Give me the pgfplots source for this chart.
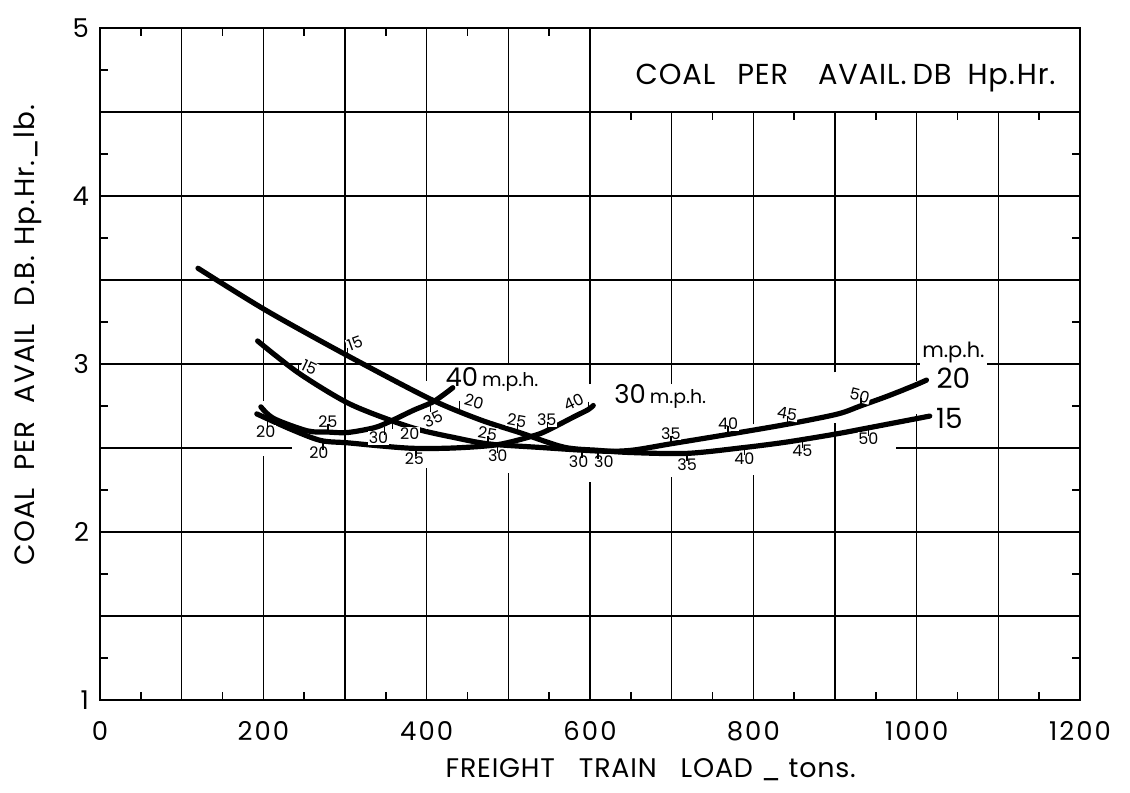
\documentclass[border=0pt]{standalone}
\usepackage{fontspec}
\setmainfont{Poppins}
\newfontfamily\widefont[LetterSpace=8]{Poppins}
\newfontfamily\titlefont[LetterSpace=3]{Poppins}
\usepackage{pgfplots}
\pgfplotsset{compat=1.18}
\newcommand{\mph}[1]{{\fontsize{13}{14}\selectfont #1}\,{\fontsize{9.5}{11}\selectfont m.p.h.}}
\begin{document}
\begin{tikzpicture}[font=\fontsize{12}{14}\selectfont,
  grid line/.style={black, line width=0.75bp},
  lab/.style={font=\fontsize{8}{8}\selectfont, inner sep=0.4bp, fill=white}]
\begin{axis}[
  set layers,
  at={(0,0)}, anchor=south west,
  scale only axis, width=490bp, height=336bp,
  xmin=0, xmax=1200, ymin=1, ymax=5,
  xtick={0,200,400,600,800,1000,1200},
  xticklabels={0,200,400,600,800,1000,1200},
  ytick={1,2,3,4,5},
  yticklabels={1,2,3,4,5},
  minor xtick={50,150,250,350,450,550,650,750,850,950,1050,1150},
  minor ytick={1.25,1.75,2.25,2.75,3.25,3.75,4.25,4.75},
  major tick length=0pt, minor tick length=4bp,
  tick align=inside,
  tick style={black, line width=0.7bp},
  axis line style={line width=1bp},
  ticklabel style={font=\widefont\fontsize{13}{13}\selectfont},
  xticklabel style={yshift=-7bp},
  yticklabel style={xshift=-2bp},
  clip=false,
  curve/.style={black, line width=2.6bp, line cap=round, smooth, no marks},
  tup/.style={only marks, mark=|, mark size=2bp, mark options={line width=0.7bp, yshift=2bp}},
  tdn/.style={only marks, mark=|, mark size=2bp, mark options={line width=0.7bp, yshift=-2bp}},
]
% ---- grid (drawn by hand, with the erased stretches of the original) ----
\draw[grid line] (axis cs:100,1) -- (axis cs:100,5);
\draw[grid line] (axis cs:200,1) -- (axis cs:200,2.45);
\draw[grid line] (axis cs:200,2.78) -- (axis cs:200,5);
\draw[grid line] (axis cs:300,1) -- (axis cs:300,5);
\draw[grid line] (axis cs:400,1) -- (axis cs:400,2.38);
\draw[grid line] (axis cs:400,2.9) -- (axis cs:400,5);
\draw[grid line] (axis cs:500,1) -- (axis cs:500,2.35);
\draw[grid line] (axis cs:500,3.0) -- (axis cs:500,5);
\draw[grid line] (axis cs:600,1) -- (axis cs:600,2.3);
\draw[grid line] (axis cs:600,2.88) -- (axis cs:600,5);
\draw[grid line] (axis cs:700,1) -- (axis cs:700,2.33);
\draw[grid line] (axis cs:700,2.88) -- (axis cs:700,4.5);
\draw[grid line] (axis cs:800,1) -- (axis cs:800,2.34);
\draw[grid line] (axis cs:800,2.64) -- (axis cs:800,4.5);
\draw[grid line] (axis cs:900,1) -- (axis cs:900,2.65);
\draw[grid line] (axis cs:900,2.95) -- (axis cs:900,4.5);
\draw[grid line] (axis cs:1000,1) -- (axis cs:1000,2.70);
\draw[grid line] (axis cs:1000,2.90) -- (axis cs:1000,4.5);
\draw[grid line] (axis cs:1100,1) -- (axis cs:1100,4.5);
\draw[grid line] (axis cs:0,1.5) -- (axis cs:1200,1.5);
\draw[grid line] (axis cs:0,2) -- (axis cs:1200,2);
\draw[grid line] (axis cs:0,2.5) -- (axis cs:235,2.5);
\draw[grid line] (axis cs:975,2.5) -- (axis cs:1200,2.5);
\draw[grid line] (axis cs:0,3) -- (axis cs:1200,3);
\draw[grid line] (axis cs:0,3.5) -- (axis cs:1200,3.5);
\draw[grid line] (axis cs:0,4) -- (axis cs:1200,4);
\draw[grid line] (axis cs:0,4.5) -- (axis cs:1200,4.5);
% ---- title box ----
\fill[white] (axis cs:601,4.51) rectangle (axis cs:1200,5);
\draw[line width=1bp] (axis cs:600,5) -- (axis cs:1200,5) -- (axis cs:1200,4.5);
\draw[grid line] (axis cs:600,4.5) -- (axis cs:600,5);
\draw[line width=0.7bp] (axis cs:650,4.5) -- ++(0bp,-4bp);
\draw[line width=0.7bp] (axis cs:750,4.5) -- ++(0bp,-4bp);
\draw[line width=0.7bp] (axis cs:850,4.5) -- ++(0bp,-4bp);
\draw[line width=0.7bp] (axis cs:950,4.5) -- ++(0bp,-4bp);
\draw[line width=0.7bp] (axis cs:1050,4.5) -- ++(0bp,-4bp);
\draw[line width=0.7bp] (axis cs:1150,4.5) -- ++(0bp,-4bp);
\node[font=\titlefont\fontsize{14.5}{16}\selectfont] at (axis cs:913,4.705)
  {COAL\hspace{11bp}PER\hspace{15bp}AVAIL.\hspace{3bp}DB\hspace{8bp}Hp.\hspace{1bp}Hr.};

% ---- curves ----
% 15 m.p.h.
\addplot[curve] coordinates {
 (120,3.57) (203,3.32) (303,3.05) (405,2.79) (466,2.667) (515,2.59)
 (568,2.505) (610,2.486) (650,2.473) (719,2.468) (789,2.503) (833,2.53)
 (860,2.55) (903,2.585) (941,2.62) (1016,2.69)};
% 20 m.p.h.
\addplot[curve] coordinates {
 (193,3.137) (243,2.947) (303,2.769) (358,2.661) (393,2.606) (433,2.563)
 (475,2.525) (540,2.503) (610,2.482) (650,2.486) (699,2.525) (769,2.581)
 (842,2.642) (903,2.702) (932,2.752) (965,2.81) (997,2.872) (1012,2.904)};
% 30 m.p.h.
\addplot[curve] coordinates {
 (192,2.703) (233,2.613) (270,2.545) (303,2.531) (344,2.512) (384,2.498)
 (433,2.500) (487,2.52) (531,2.573) (548,2.605) (580,2.685) (598,2.729) (604,2.753)};
% 40 m.p.h.
\addplot[curve] coordinates {
 (197,2.745) (213,2.675) (254,2.602) (279,2.595) (303,2.592) (336,2.621)
 (356,2.66) (384,2.725) (409,2.778) (432,2.859)};

% ---- small tick strokes on the curves ----
\addplot[tup] coordinates {(303,3.05) (440,2.735) (511,2.60)
  (243,2.947) (475,2.525) (699,2.525) (769,2.581) (842,2.642) (932,2.752)
  (279,2.595) (548,2.605) (598,2.729)};
\addplot[tdn] coordinates {(590,2.49) (719,2.468) (789,2.503) (860,2.55) (941,2.62)
  (358,2.661) (610,2.482)
  (205,2.66) (348,2.625) (405,2.76)
  (273,2.534) (387,2.498) (487,2.52)};

% ---- numbers along the curves ----
% 15 m.p.h.
\node[lab, anchor=south west, rotate=20] at (axis cs:305,3.065) {15};
\node[lab, rotate=-15] at (axis cs:458,2.775) {20};
\node[lab, anchor=south, rotate=-10] at (axis cs:509,2.62) {25};
\node[lab, anchor=north] at (axis cs:586,2.46) {30};
\node[lab, anchor=north] at (axis cs:719,2.445) {35};
\node[lab, anchor=north] at (axis cs:789,2.48) {40};
\node[lab, anchor=north] at (axis cs:860,2.527) {45};
\node[lab, anchor=north] at (axis cs:941,2.597) {50};
% 20 m.p.h.
\node[lab, anchor=south west, rotate=-25] at (axis cs:243,2.965) {15};
\node[lab, anchor=north west] at (axis cs:366,2.628) {20};
\node[lab, anchor=south, rotate=-10] at (axis cs:473,2.545) {25};
\node[lab, anchor=north] at (axis cs:617,2.46) {30};
\node[lab, anchor=south] at (axis cs:699,2.545) {35};
\node[lab, anchor=south] at (axis cs:769,2.601) {40};
\node[lab, anchor=south, rotate=-10] at (axis cs:840,2.662) {45};
\node[lab, anchor=south, rotate=-15] at (axis cs:928,2.772) {50};
% 40 m.p.h.
\node[lab, anchor=north] at (axis cs:203,2.638) {20};
\node[lab, anchor=south] at (axis cs:279,2.615) {25};
\node[lab, anchor=north] at (axis cs:341,2.603) {30};
\node[lab, anchor=north east, rotate=25] at (axis cs:416,2.74) {35};
% 30 m.p.h.
\node[lab, anchor=north] at (axis cs:268,2.512) {20};
\node[lab, anchor=north] at (axis cs:385,2.476) {25};
\node[lab, anchor=north] at (axis cs:487,2.498) {30};
\node[lab, anchor=south] at (axis cs:547,2.625) {35};
\node[lab, anchor=south east, rotate=25] at (axis cs:596,2.765) {40};

% ---- curve names ----
\node[inner sep=0.5bp] at (axis cs:480,2.91) {\mph{40}};
\node[inner sep=0.5bp] at (axis cs:686,2.81) {\mph{30}};
\node[font=\fontsize{10.5}{12}\selectfont, inner sep=1bp, fill=white] at (axis cs:1045,3.07) {m.p.h.};
\node[font=\fontsize{14}{15}\selectfont, inner sep=1bp] at (axis cs:1045,2.913) {20};
\node[font=\fontsize{14}{15}\selectfont, inner sep=1bp] at (axis cs:1040,2.675) {15};

% ---- axis titles ----
\node[font=\titlefont\fontsize{13.5}{15}\selectfont] at (rel axis cs:0.562,0) [yshift=-35bp]
  {FREIGHT\hspace{12bp}TRAIN\hspace{12bp}LOAD\hspace{4bp}\_\hspace{4bp}tons.};
\node[font=\titlefont\fontsize{14}{15}\selectfont, xshift=-36bp, rotate=90] at (rel axis cs:0,0.543)
  {COAL\hspace{9bp}PER\hspace{9bp}AVAIL\hspace{9bp}D.B.\hspace{5bp}Hp.\hspace{1bp}Hr.\_lb.};
\end{axis}
\pgfresetboundingbox
\useasboundingbox (-50bp,-46.5bp) rectangle (515bp,350bp);
\end{tikzpicture}
\end{document}
